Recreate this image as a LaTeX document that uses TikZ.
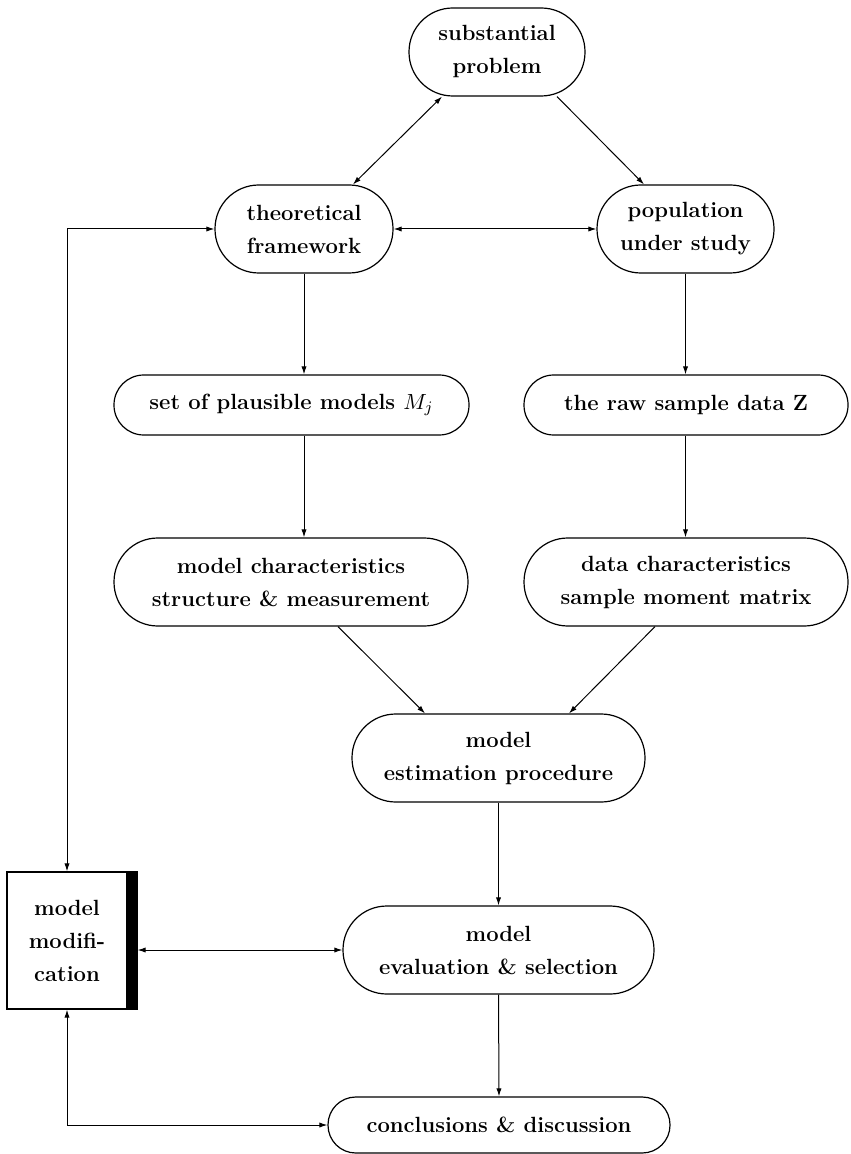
\documentclass[tikz,border=0pt]{standalone}
\usetikzlibrary{arrows.meta,calc}
\begin{document}
\begin{tikzpicture}[x=0.5pt,y=-0.5pt,
  every node/.style={font=\fontsize{11}{16.5}\selectfont\bfseries, align=center, inner sep=0pt},
  captwo/.style={draw, line width=0.6pt, rounded corners=21.9pt, minimum height=44pt},
  capone/.style={draw, line width=0.6pt, rounded corners=14.9pt, minimum height=30pt},
  conn/.style={line width=0.5pt, -{Latex[length=4pt,width=2.6pt]}},
  bconn/.style={line width=0.5pt, {Latex[length=4pt,width=2.6pt]}-{Latex[length=4pt,width=2.6pt]}}]
\useasboundingbox (0,0) rectangle (850,1154);
\node[captwo, minimum width=88pt] (sub) at (497,52) {substantial\\problem};
\node[captwo, minimum width=89pt] (theo) at (304,229) {theoretical\\framework};
\node[captwo, minimum width=88.5pt] (pop) at (685.5,229) {population\\under study};
\node[capone, minimum width=177.5pt] (set) at (291.5,405) {set of plausible models $M_j$};
\node[capone, minimum width=162pt] (raw) at (686,405) {the raw sample data Z};
\node[captwo, minimum width=177pt] (modc) at (291,582) {model characteristics\\structure \& measurement};
\node[captwo, minimum width=162pt] (datac) at (686,582) {data characteristics\\sample moment matrix};
\node[captwo, minimum width=146.5pt] (est) at (498.5,758) {model\\estimation procedure};
\node[captwo, minimum width=155.5pt] (eval) at (498.5,950) {model\\evaluation \& selection};
\node[capone, minimum width=171pt, minimum height=28pt, rounded corners=13.9pt] (concl) at (499,1125) {conclusions \& discussion};
\node[draw, line width=0.6pt, minimum width=60pt, minimum height=68.5pt] (mm) at (67,940.5) {model\\modifi-\\cation};
\fill (mm.north east) rectangle ($(mm.south east)+(5pt,0)$);
\coordinate (bar) at ($(mm.east)+(5pt,0)$);
\draw[bconn] ($(sub.south)+(-27.5pt,0)$) -- ($(theo.north)+(24.5pt,0)$);
\draw[conn] ($(sub.south)+(30pt,0)$) -- ($(pop.north)+(-20.75pt,0)$);
\draw[bconn] (theo.east) -- (pop.west);
\draw[conn] (theo.south) -- (theo.south |- set.north);
\draw[conn] (set.south -| theo.south) -- (modc.north -| theo.south);
\draw[conn] (pop.south) -- (pop.south |- raw.north);
\draw[conn] (raw.south -| pop.south) -- (datac.north -| pop.south);
\draw[conn] ($(modc.south)+(23.5pt,0)$) -- ($(est.north)+(-36.75pt,0)$);
\draw[conn] ($(datac.south)+(-15.5pt,0)$) -- ($(est.north)+(35.25pt,0)$);
\draw[conn] (est.south) -- (eval.north);
\draw[conn] (eval.south) -- (concl.north);
\draw[bconn] (eval.west) -- (eval.west -| bar);
\draw[bconn] (mm.north) |- (theo.west);
\draw[bconn] (mm.south) |- (concl.west);
\end{tikzpicture}
\end{document}
